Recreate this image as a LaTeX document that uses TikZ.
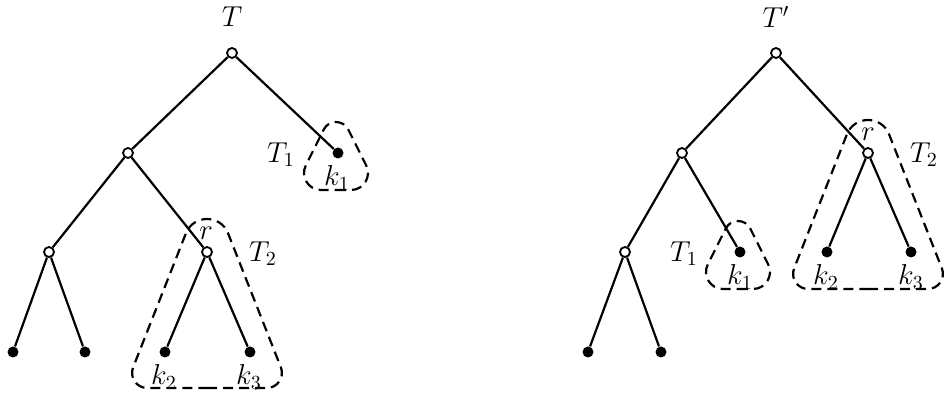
\documentclass[tikz,border=0pt]{standalone}
\usetikzlibrary{calc}
\begin{document}
\begin{tikzpicture}[x=0.5pt,y=-0.5pt,
  opennode/.style={circle,draw,fill=white,inner sep=0pt,minimum size=5pt,line width=0.9pt},
  fullnode/.style={circle,fill,inner sep=0pt,minimum size=5.5pt},
  lbl/.style={font=\Large,inner sep=0pt},
  branch/.style={line width=1.1pt},
  hull/.style={line width=1.1pt,dash pattern=on 5pt off 3pt}]
  \useasboundingbox (0,0) rectangle (944,394);
  % tree T
  \node[opennode] (rootL) at (232,53) {};
  \node[opennode] (aL) at (128,153) {};
  \node[fullnode] (k1L) at (338,153) {};
  \node[opennode] (bL) at (49,252) {};
  \node[opennode] (rL) at (207,252) {};
  \node[fullnode] (l1L) at (13,352) {};
  \node[fullnode] (l2L) at (85,352) {};
  \node[fullnode] (k2L) at (165,352) {};
  \node[fullnode] (k3L) at (250,352) {};
  \foreach \p/\c in {rootL/aL, rootL/k1L, aL/bL, aL/rL, bL/l1L, bL/l2L, rL/k2L, rL/k3L}
    \draw[branch] (\p) -- (\c);
  % tree T'
  \node[opennode] (rootR) at (776,53) {};
  \node[opennode] (aR) at (682,153) {};
  \node[opennode] (rR) at (868,153) {};
  \node[opennode] (bR) at (625,252) {};
  \node[fullnode] (k1R) at (740,252) {};
  \node[fullnode] (k2R) at (827,252) {};
  \node[fullnode] (k3R) at (911,252) {};
  \node[fullnode] (l1R) at (588,352) {};
  \node[fullnode] (l2R) at (661,352) {};
  \foreach \p/\c in {rootR/aR, rootR/rR, aR/bR, aR/k1R, rR/k2R, rR/k3R, bR/l1R, bR/l2R}
    \draw[branch] (\p) -- (\c);
  % dashed subtrees
  \foreach \k in {k1L, k1R}
    \draw[hull,shift={(\k)}] (-2,37) -- (13,37) .. controls (25.6,37) and (33.8,23.7) .. (28.2,12.4)
      -- (10.3,-23.4) .. controls (5.25,-33.5) and (-9.25,-33.5) .. (-14.3,-23.4)
      -- (-32.2,12.4) .. controls (-37.8,23.7) and (-29.6,37) .. (-17,37) -- cycle;
  \foreach \k in {rL, rR}
    \draw[hull,shift={(\k)}] (0,136) -- (59.8,136) .. controls (70.4,136) and (77.8,125.3) .. (73.9,115.4)
      -- (21.1,-18.6) .. controls (13.5,-37.8) and (-13.5,-37.8) .. (-21.1,-18.6)
      -- (-73.9,115.4) .. controls (-77.8,125.3) and (-70.4,136) .. (-59.8,136) -- cycle;
  % labels
  \node[lbl] (tT) at (232,17) {$T$};
  \node[lbl] (tTp) at (776,17) {$T'$};
  \node[lbl] (t1L) at (281,155) {$T_1$};
  \node[lbl] (t2L) at (263,254) {$T_2$};
  \node[lbl] (t1R) at (684,254) {$T_1$};
  \node[lbl] (t2R) at (924,155) {$T_2$};
  \node[lbl] (rlabL) at (206,233) {$r$};
  \node[lbl] (rlabR) at (868,134) {$r$};
  \node[lbl] (k1labL) at (337,178) {$k_1$};
  \node[lbl] (k2labL) at (164,377) {$k_2$};
  \node[lbl] (k3labL) at (249,377) {$k_3$};
  \node[lbl] (k1labR) at (740,277) {$k_1$};
  \node[lbl] (k2labR) at (826,277) {$k_2$};
  \node[lbl] (k3labR) at (911,277) {$k_3$};
\end{tikzpicture}
\end{document}
